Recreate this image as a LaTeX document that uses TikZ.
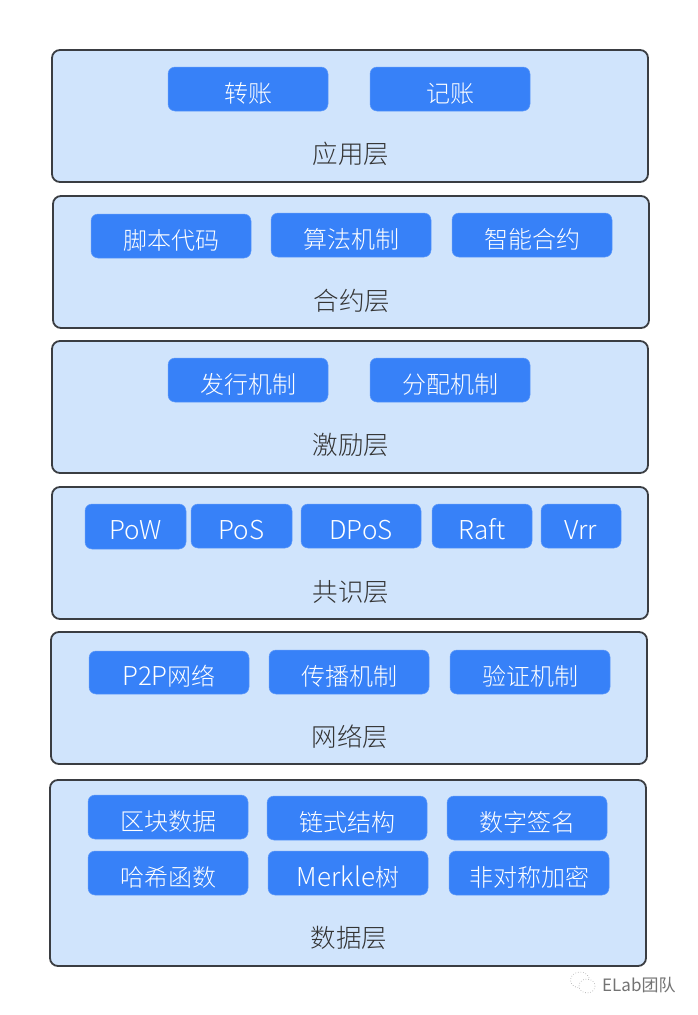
\documentclass[tikz,border=0pt]{standalone}
\usepackage{fontspec}
\setmainfont{Noto Sans CJK SC}[UprightFont=* Light]
\newfontfamily\wmfont{Noto Sans CJK SC}
\definecolor{layerfill}{HTML}{D0E4FC}
\definecolor{layerline}{HTML}{3A3D42}
\definecolor{btnfill}{HTML}{3781F8}
\definecolor{labeltext}{HTML}{333333}
\tikzset{
  layerbox/.style={draw=layerline,line width=1.8pt,fill=layerfill,rounded corners=8pt,inner sep=0pt},
  btnbox/.style={fill=btnfill,draw=btnfill!80!white,line width=0.5pt,rounded corners=7pt,inner sep=0pt,text=white,font=\fontsize{24}{26}\selectfont},
  layertitle/.style={inner sep=0pt,text=labeltext,font=\fontsize{25.5}{28}\selectfont},
  wmline/.style={draw=black!38,line width=0.6pt,fill=white},
}
\newcommand{\lat}[1]{{\fontsize{26}{26}\selectfont #1}}
\newcommand{\layerb}[5]{\node[layerbox,minimum width={(#4-#2)*1pt},minimum height={(#5-#3)*1pt}] (#1) at ({(#2+#4)/2},{(#3+#5)/2}) {};}
\newcommand{\btn}[6]{\node[btnbox,minimum width={(#4-#2)*1pt},minimum height={(#5-#3)*1pt}] (#1) at ({(#2+#4)/2},{(#3+#5)/2}) {\raisebox{-13pt}[0pt][0pt]{#6}};}
\begin{document}
\begin{tikzpicture}[x=1pt,y=-1pt]
\useasboundingbox (0,0) rectangle (698,1015);
\fill[white] (0,0) rectangle (698,1015);
\layerb{L1}{52}{50}{648}{182}
\layerb{L2}{53}{196}{649}{328}
\layerb{L3}{52}{341}{648}{473}
\layerb{L4}{52}{487}{648}{619}
\layerb{L5}{51}{632}{647}{764}
\layerb{L6}{50}{780}{646}{966}
\node[layertitle] (T1) at (351,154) {应用层};
\node[layertitle] (T2) at (352,301) {合约层};
\node[layertitle] (T3) at (351,445) {激励层};
\node[layertitle] (T4) at (351,592) {共识层};
\node[layertitle] (T5) at (350,737) {网络层};
\node[layertitle] (T6) at (349,938) {数据层};
\btn{a1}{168}{67}{328}{111}{转账}
\btn{a2}{370}{67}{530}{111}{记账}
\btn{b1}{91}{214}{251}{258}{脚本代码}
\btn{b2}{271}{213}{431}{257}{算法机制}
\btn{b3}{452}{213}{612}{257}{智能合约}
\btn{c1}{168}{358}{328}{402}{发行机制}
\btn{c2}{370}{358}{530}{402}{分配机制}
\btn{d1}{85}{504}{186}{549}{\lat{PoW}}
\btn{d2}{191}{504}{292}{548}{\lat{PoS}}
\btn{d3}{301}{504}{421}{548}{\lat{DPoS}}
\btn{d4}{432}{504}{532}{548}{\lat{Raft}}
\btn{d5}{541}{504}{621}{548}{\lat{Vrr}}
\btn{e1}{89}{651}{249}{694}{\lat{P2P}网络}
\btn{e2}{269}{650}{429}{694}{传播机制}
\btn{e3}{450}{650}{610}{694}{验证机制}
\btn{f1}{88}{795}{248}{839}{区块数据}
\btn{f2}{267}{796}{427}{840}{链式结构}
\btn{f3}{447}{796}{607}{840}{数字签名}
\btn{f4}{88}{851}{248}{895}{哈希函数}
\btn{f5}{268}{851}{428}{895}{\lat{Merkle}树}
\btn{f6}{449}{851}{609}{895}{非对称加密}
% watermark
\draw[wmline,dotted] (580,980) ellipse [x radius=9.5,y radius=8];
\draw[wmline,dotted] (587,986) ellipse [x radius=8,y radius=7];
\node[inner sep=0pt,anchor=west,text=black!55,font=\wmfont\fontsize{17}{20}\selectfont] (wm) at (602,985) {ELab团队};
\end{tikzpicture}
\end{document}
